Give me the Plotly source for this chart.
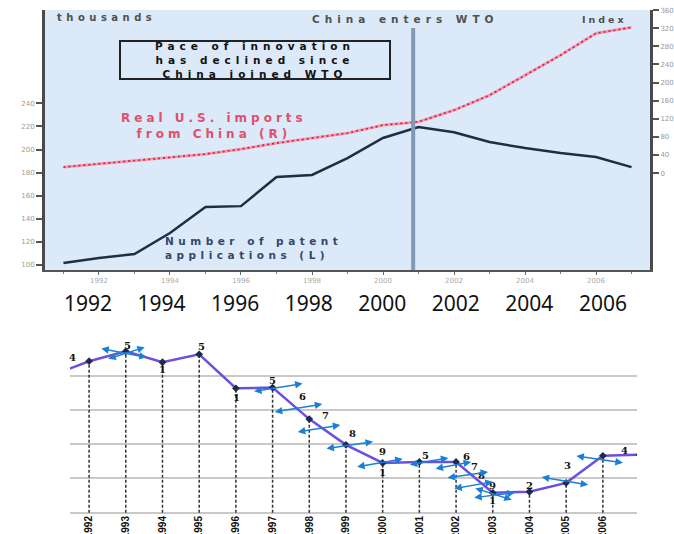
import plotly.graph_objects as go

W, H = 674, 534

# ---------------- data ----------------
years = list(range(1991, 2008))
patent_apps = [101.7, 106, 109.5, 127.7, 150.2, 151, 176.2, 178, 192.6, 210, 219.5, 215, 206.5, 201.3, 197, 193.5, 184.8]
imports_index = [13.3, 19.9, 27.2, 34.7, 42, 53, 66.3, 77.3, 88.3, 106, 113.3, 139, 172, 216, 260.6, 309, 322]
left_ticks = [100, 120, 140, 160, 180, 200, 220, 240]
right_ticks = [0, 40, 80, 120, 160, 200, 240, 280, 320, 360]
inner_year_ticks = [1992, 1994, 1996, 1998, 2000, 2002, 2004, 2006]
overlay_year_labels = [1992, 1994, 1996, 1998, 2000, 2002, 2004, 2006]
WTO_YEAR = 2000.85

b_years = list(range(1991, 2008))
b_values = [4.01, 4.42, 4.71, 4.39, 4.62, 3.63, 3.65, 2.73, 1.98, 1.45, 1.48, 1.48, 0.58, 0.61, 0.87, 1.66, 1.69]
b_tick_years = list(range(1992, 2008))
# small number labels: (text, anchor year, dx px, dy px screen-down)
b_labels = [("4", 1992, -17, -4), ("5", 1993, 2, -6), ("1", 1994, 0, 7), ("5", 1995, 2, -8),
            ("1", 1996, 1, 9), ("5", 1997, 0, -7), ("6", 1998, -7, -23), ("7", 1998, 16, -4),
            ("8", 1999, 7, -11), ("9", 2000, 0, -11), ("1", 2000, 0, 10), ("5", 2001, 6, -6),
            ("6", 2002, 10, -5), ("7", 2002, 18, 5), ("8", 2003, -11, -17), ("9", 2003, 0, -7),
            ("1", 2003, 0, 8), ("2", 2004, 0, -6), ("3", 2005, 1, -17), ("4", 2006, 22, -5)]
# blue double arrows: (anchor year, centre dx, centre dy, half-vector hx, hy)
b_arrows = [(1993, -2.5, 1.5, 23.5, 4.5), (1993, 0, 2, 19, -6), (1997, 5, 0, 25, -4),
            (1998, -11.5, -11, 24.5, -4), (1998, 9, 9.5, 22, -3.5), (1999, 3, 0.5, 24, -3.5),
            (2000, -3.5, 0, 23.5, -4), (2001, 9, -0.5, 20, -3.5), (2002, -3.5, 3.5, 18.5, -3.5),
            (2002, 11, 13, 21, -3), (2003, -20, -7.5, 20, -3.5), (2003, 1, 2.5, 21, -2.5),
            (2003, 0, 1, 19, 6), (2005, -2, -2, 24, 4), (2006, -4, 3.5, 24, 3.5)]


def px_x(p):
    return p / W


def px_y(p):
    return 1 - p / H


def spaced(t, sp=3.5):
    return '<span style="letter-spacing:%spx">%s</span>' % (sp, t)


fig = go.Figure()

# ---------- top chart ----------
fig.add_trace(go.Scatter(x=years, y=patent_apps, mode="lines", xaxis="x", yaxis="y",
                         line=dict(color="#1f2d45", width=2.5), showlegend=False))
fig.add_trace(go.Scatter(x=years, y=imports_index, mode="lines", xaxis="x", yaxis="y2",
                         line=dict(color="#f29aae", width=2.8), showlegend=False))
fig.add_trace(go.Scatter(x=years, y=imports_index, mode="lines", xaxis="x", yaxis="y2",
                         line=dict(color="#d92446", width=1.8, dash="2px,3px"), showlegend=False))

# dummy trace for the overlay label axis
fig.add_trace(go.Scatter(x=[overlay_year_labels[0]], y=[0], mode="markers", xaxis="x3", yaxis="y3",
                         marker=dict(opacity=0), showlegend=False, hoverinfo="skip"))

# ---------- bottom chart ----------
drop_x, drop_y = [], []
for yr, v in zip(b_years, b_values):
    if yr in b_tick_years:
        drop_x += [yr, yr, None]
        drop_y += [0, v, None]
fig.add_trace(go.Scatter(x=drop_x, y=drop_y, mode="lines", xaxis="x4", yaxis="y4",
                         line=dict(color="#333333", width=1.5, dash="3px,2px"), showlegend=False))
fig.add_trace(go.Scatter(x=b_years, y=b_values, mode="lines+markers", xaxis="x4", yaxis="y4",
                         line=dict(color="#6d4fdc", width=2.5),
                         marker=dict(symbol="diamond", size=6, color="#1d2b4c"), showlegend=False))

val_of = dict(zip(b_years, b_values))
annotations = []
for txt, yr, dx, dy in b_labels:
    annotations.append(dict(x=yr, y=val_of[yr], xref="x4", yref="y4", text="<b>%s</b>" % txt,
                            showarrow=False, xshift=dx, yshift=-dy, xanchor="center", yanchor="middle",
                            font=dict(family="DejaVu Serif", size=10, color="#111111")))
for yr, cx, cy, hx, hy in b_arrows:
    annotations.append(dict(x=yr, y=val_of[yr], xref="x4", yref="y4", text="",
                            showarrow=True, arrowside="end+start", arrowhead=2, startarrowhead=2,
                            arrowsize=1, startarrowsize=1, arrowwidth=1.5, arrowcolor="#1c7fd6",
                            xshift=cx + hx, yshift=-(cy + hy), ax=-2 * hx, ay=-2 * hy,
                            axref="pixel", ayref="pixel", standoff=0, startstandoff=0))

# top chart texts
grey = "#505050"
annotations += [
    dict(x=px_x(106), y=px_y(18), text=spaced("<b>thousands</b>", 4.5),
         font=dict(family="DejaVu Sans", size=10, color=grey)),
    dict(x=px_x(405), y=px_y(19), text=spaced("<b>China enters WTO</b>", 5),
         font=dict(family="DejaVu Sans", size=10.5, color=grey)),
    dict(x=px_x(604), y=px_y(20), text=spaced("<b>Index</b>", 3),
         font=dict(family="DejaVu Sans", size=9.5, color=grey)),
    dict(x=px_x(255), y=px_y(60),
         text=spaced("<b>Pace of innovation</b>", 5) + "<br>" + spaced("<b>has declined since</b>", 5)
         + "<br>" + spaced("<b>China joined WTO</b>", 5),
         width=268, height=36, bordercolor="#222222", borderwidth=2, borderpad=0,
         font=dict(family="DejaVu Sans", size=10.5, color="#111111")),
    dict(x=px_x(214), y=px_y(126),
         text=spaced("<b>Real U.S. imports</b>", 4) + "<br>" + spaced("<b>from China (R)</b>", 4),
         font=dict(family="DejaVu Sans", size=12, color="#e0506c")),
    dict(x=px_x(163), y=px_y(248), xanchor="left", align="left",
         text=spaced("<b>Number of patent</b>", 4.5) + "<br>" + spaced("<b>applications (L)</b>", 4.5),
         font=dict(family="DejaVu Sans", size=10.5, color="#34486a")),
]
for a in annotations[-6:]:
    a.update(xref="paper", yref="paper", showarrow=False, yanchor="middle")
    a.setdefault("xanchor", "center")

shapes = [
    dict(type="rect", xref="x domain", yref="y domain", x0=0, x1=1, y0=0, y1=1,
         fillcolor="#dce9f8", line=dict(width=0), layer="below"),
    dict(type="line", xref="x", yref="y domain", x0=WTO_YEAR, x1=WTO_YEAR, y0=0, y1=(270 - 28) / (270 - 10),
         line=dict(color="#8199b5", width=4)),
]

top_dom_y = [px_y(270), px_y(10)]
fig.update_layout(
    width=W, height=H, autosize=False,
    margin=dict(l=0, r=0, t=0, b=0, pad=0, autoexpand=False),
    paper_bgcolor="white", plot_bgcolor="rgba(0,0,0,0)",
    showlegend=False,
    xaxis=dict(domain=[px_x(45), px_x(650)], anchor="y", range=[1990.48, 2007.52], automargin=False,
               tickvals=inner_year_ticks, ticks="outside", ticklen=3, tickcolor="#666",
               tickfont=dict(family="DejaVu Sans", size=7, color="#aaaaaa"),
               minor=dict(dtick=1, tick0=1991, ticks="outside", ticklen=2, tickcolor="#777"),
               showline=True, linecolor="#555555", linewidth=2, showgrid=False, zeroline=False),
    yaxis=dict(domain=top_dom_y, anchor="x", range=[95.7, 320.8], tickvals=left_ticks, automargin=False,
               ticks="outside", ticklen=6, tickwidth=1.5, tickcolor="#555",
               tickfont=dict(family="DejaVu Sans", size=7, color="#999999"),
               showline=True, linecolor="#4a4a4a", linewidth=3, showgrid=False, zeroline=False),
    yaxis2=dict(overlaying="y", side="right", anchor="x", range=[-214.2, 360.4], tickvals=right_ticks,
                automargin=False, ticks="outside", ticklen=6, tickwidth=1.5, tickcolor="#555",
                tickfont=dict(family="DejaVu Sans", size=7, color="#999999"),
                showline=True, linecolor="#4a4a4a", linewidth=3, showgrid=False, zeroline=False),
    xaxis3=dict(domain=[px_x(45), px_x(650)], anchor="y3", range=[1990.83, 2007.28], automargin=False,
                tickvals=overlay_year_labels, ticks="", showline=False, showgrid=False, zeroline=False,
                tickfont=dict(family="Noto Sans", size=21, color="#111111")),
    yaxis3=dict(domain=[px_y(289), px_y(287)], anchor="x3", range=[0, 1], visible=False, automargin=False),
    xaxis4=dict(domain=[px_x(70), px_x(637)], anchor="y4", range=[1991.48, 2006.93], automargin=False,
                tickvals=b_tick_years, tickangle=-90, ticks="", showline=False, showgrid=False,
                zeroline=False, ticklabelstandoff=0,
                tickfont=dict(family="Liberation Sans", size=10, color="#111111", weight="bold")),
    yaxis4=dict(domain=[px_y(513), px_y(341)], anchor="x4", range=[-0.01, 5.01], dtick=1, automargin=False,
                showticklabels=False, ticks="", showgrid=True, gridcolor="#c9c9c9", gridwidth=1.5,
                zeroline=True, zerolinecolor="#c9c9c9", zerolinewidth=1.5, showline=False),
    annotations=annotations,
    shapes=shapes,
)

post = """
document.documentElement.style.margin='0px';
document.body.style.margin='0px';
"""
fig.write_html("out.html", config={"displayModeBar": False}, post_script=post)
